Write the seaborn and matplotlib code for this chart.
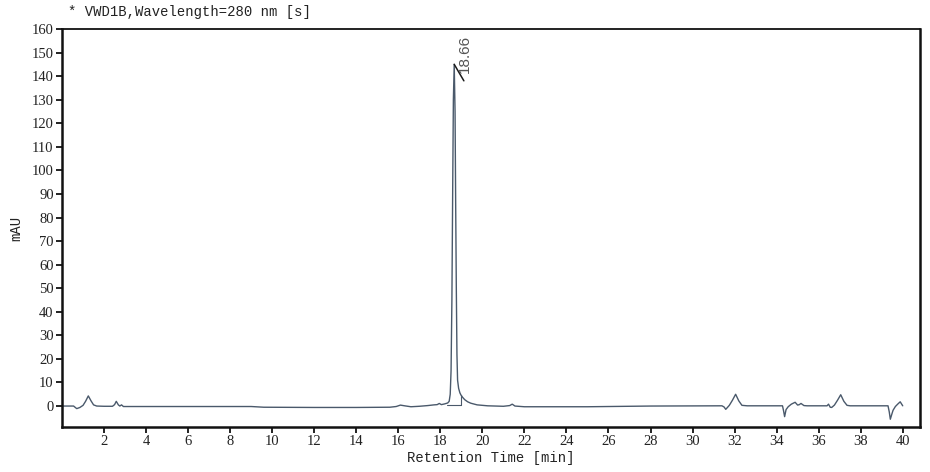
import numpy as np
import pandas as pd
import seaborn as sns
from matplotlib import pyplot as plt

# chromatogram trace (min, mAU)
time_min = [0.00, 0.55, 0.70, 0.85, 1.00, 1.12, 1.25, 1.38, 1.50, 1.65,
            2.00, 2.40, 2.50, 2.58, 2.68, 2.75, 2.83, 2.92, 3.10, 6.00,
            9.00, 9.60, 12.00, 14.00, 15.60, 15.90, 16.10, 16.30, 16.60, 17.00,
            17.40, 17.70, 17.85, 17.95, 18.05, 18.20, 18.35, 18.42, 18.47, 18.51,
            18.55, 18.59, 18.62, 18.66, 18.70, 18.73, 18.76, 18.79, 18.82, 18.87,
            18.93, 18.98, 19.06, 19.16, 19.30, 19.45, 19.75, 20.25, 21.00, 21.30,
            21.42, 21.55, 22.00, 25.00, 27.00, 28.00, 31.40, 31.50, 31.58, 31.75,
            31.90, 32.05, 32.20, 32.35, 32.60, 34.28, 34.33, 34.38, 34.45, 34.55,
            34.70, 34.88, 35.00, 35.08, 35.16, 35.30, 35.45, 36.40, 36.47, 36.55,
            36.62, 36.75, 36.90, 37.05, 37.20, 37.35, 37.50, 39.30, 39.36, 39.41,
            39.48, 39.54, 39.65, 39.76, 39.88, 40.00]
signal_mau = [0.0, 0.0, -1.1, -0.6, 0.3, 2.0, 4.3, 2.2, 0.5, 0.0,
              -0.1, -0.1, 0.6, 2.0, 0.5, 0.0, 0.5, -0.2, -0.2, -0.2,
              -0.2, -0.5, -0.6, -0.6, -0.5, -0.2, 0.4, 0.1, -0.3, -0.1,
              0.2, 0.5, 0.6, 1.1, 0.6, 0.9, 1.3, 2.0, 5.0, 15.0,
              45.0, 95.0, 130.0, 145.0, 125.0, 85.0, 50.0, 22.0, 11.0, 7.5,
              5.6, 4.7, 3.7, 2.7, 1.8, 1.2, 0.5, 0.1, -0.1, 0.2,
              0.8, 0.0, -0.3, -0.3, -0.1, 0.0, 0.1, -0.4, -1.4, 0.3,
              2.5, 5.0, 2.2, 0.3, 0.1, 0.1, -2.0, -4.5, -1.5, -0.3,
              0.8, 1.6, 0.4, 0.6, 1.1, 0.2, 0.1, 0.1, 0.8, -0.5,
              -0.6, 0.4, 2.5, 4.8, 2.0, 0.3, 0.1, 0.1, -2.5, -5.6,
              -3.5, -1.8, -0.2, 0.8, 1.8, 0.1]

# integration marks of the main peak
peak_rt = 18.66
peak_top = 145.0
base_t = [18.30, 18.98]
base_v = [0.3, 0.3]
drop_t = [18.98, 18.98]
drop_v = [0.3, 4.7]

x_ticks = list(range(2, 41, 2))
y_ticks = list(range(0, 161, 10))

line_col = '#4a596b'

sns.set_style("ticks")
plt.rcParams['font.family'] = ['Liberation Serif', 'DejaVu Serif']

fig = plt.figure(figsize=(9.3, 4.72), dpi=100)
ax = fig.add_axes([0.0667, 0.0953, 0.9225, 0.8433])

df = pd.DataFrame({'t': time_min, 'v': signal_mau})
sns.lineplot(data=df, x='t', y='v', ax=ax, color=line_col, linewidth=1.0,
             estimator=None, sort=True)
sns.lineplot(x=base_t, y=base_v, ax=ax, color=line_col, linewidth=0.8, estimator=None)
sns.lineplot(x=drop_t, y=drop_v, ax=ax, color=line_col, linewidth=0.8, estimator=None)

# peak label with the small tick line
ax.plot([peak_rt, peak_rt + 0.46], [peak_top, peak_top - 7], color='#1a1a1a', linewidth=1.1)
ax.text(peak_rt + 0.5, peak_top - 3.6, f"{peak_rt:.2f}", rotation=90, ha='center', va='bottom',
        fontsize=11, color='#555555', family=['Liberation Sans', 'DejaVu Sans'])

ax.set_xlim(0, 40.82)
ax.set_ylim(-8.9, 160)
ax.set_xticks(x_ticks)
ax.set_yticks(y_ticks)
ax.tick_params(direction='out', length=4, width=1.3, labelsize=10.5, color='#111111',
               labelcolor='#222222', pad=2)

for side in ['left', 'bottom', 'top', 'right']:
    ax.spines[side].set_visible(True)
    ax.spines[side].set_color('#111111')
ax.spines['left'].set_linewidth(1.8)
ax.spines['bottom'].set_linewidth(1.8)
ax.spines['top'].set_linewidth(1.3)
ax.spines['right'].set_linewidth(1.8)

mono = ['Liberation Mono', 'DejaVu Sans Mono']
ax.set_xlabel('Retention Time [min]', fontsize=10, family=mono, color='#222222', labelpad=2)
ax.set_ylabel('mAU', fontsize=10, family=mono, color='#222222', labelpad=6)
fig.text(0.073, 0.975, '* VWD1B,Wavelength=280 nm [s]', fontsize=10, family=mono,
         color='#222222', ha='left', va='center')

fig.savefig('out.png', dpi=100)
